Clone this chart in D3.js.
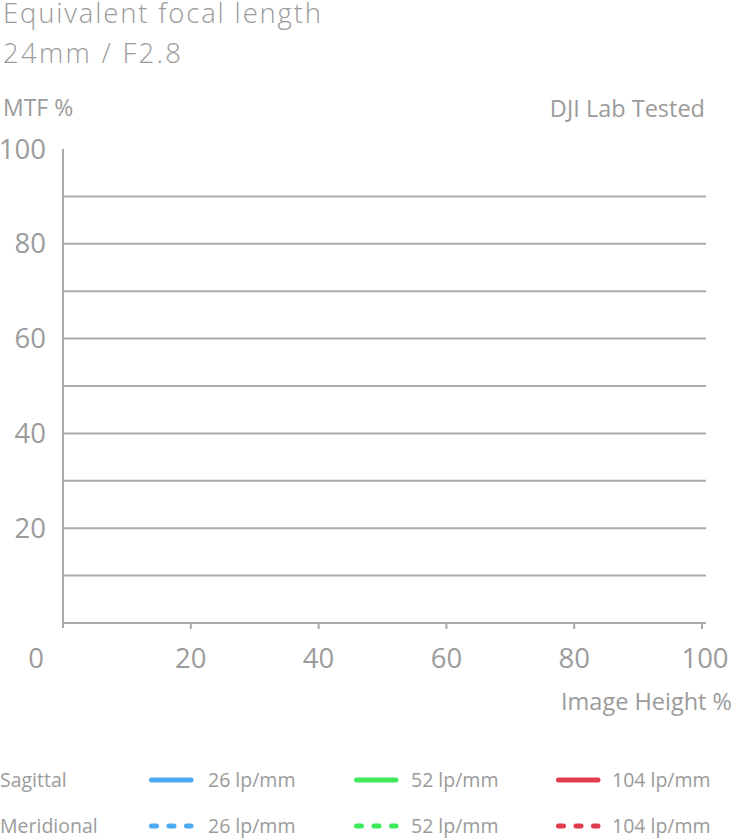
<!DOCTYPE html>
<html><head><meta charset="utf-8">
<script src="https://cdn.jsdelivr.net/npm/d3@7"></script>
<style>
html,body{margin:0;padding:0;background:#fff;}
svg{display:block;}
text{font-family:"Open Sans",sans-serif;fill:#9b9b9b;}
</style></head><body>
<svg id="c" width="732" height="840"></svg>
<script>
const titleLines = ["Equivalent focal length", "24mm / F2.8"];
const yTicks = [20, 40, 60, 80, 100];
const gridValues = [10, 20, 30, 40, 50, 60, 70, 80, 90];
const xTicks = [0, 20, 40, 60, 80, 100];
const frequencies = ["26 lp/mm", "52 lp/mm", "104 lp/mm"];
const freqColors = ["#4aa9f0", "#3fe95a", "#e03c4b"];
const lineTypes = ["Sagittal", "Meridional"];
// The reference shows no measured curves (empty chart)
const sagittal26 = [], sagittal52 = [], sagittal104 = [];
const meridional26 = [], meridional52 = [], meridional104 = [];

const svg = d3.select("#c");
const x = d3.scaleLinear().domain([0, 100]).range([63, 702]);
const y = d3.scaleLinear().domain([0, 100]).range([623, 149]);
const axisColor = "#aaaaaa";

// titles
const titleWidths = [318, 178];
svg.selectAll("text.title").data(titleLines).join("text")
  .attr("class", "title")
  .attr("x", 3).attr("y", (d, i) => 23 + i * 40)
  .attr("textLength", (d, i) => titleWidths[i])
  .attr("lengthAdjust", "spacing")
  .style("font-weight", "300")
  .style("font-size", "27.5px")
  .text(d => d);

svg.append("text").attr("x", 3).attr("y", 116).style("font-size", "23px").text("MTF %");
svg.append("text").attr("x", 705).attr("y", 117).attr("text-anchor", "end").style("font-size", "23.5px").text("DJI Lab Tested");

// grid
svg.append("g").selectAll("line").data(gridValues).join("line")
  .attr("x1", x(0)).attr("x2", 706)
  .attr("y1", d => y(d)).attr("y2", d => y(d))
  .attr("stroke", axisColor).attr("stroke-width", 2);

// y axis
svg.append("line").attr("x1", x(0)).attr("x2", x(0)).attr("y1", y(100)).attr("y2", 628)
  .attr("stroke", axisColor).attr("stroke-width", 2);
svg.append("g").selectAll("text").data(yTicks).join("text")
  .attr("x", 46).attr("y", d => y(d)).attr("dy", "0.35em")
  .attr("text-anchor", "end").style("font-size", "27.5px")
  .text(d => d);

// x axis
svg.append("line").attr("x1", x(0)).attr("x2", 706).attr("y1", y(0)).attr("y2", y(0))
  .attr("stroke", axisColor).attr("stroke-width", 2);
svg.append("g").selectAll("line").data(xTicks.slice(1)).join("line")
  .attr("x1", d => x(d)).attr("x2", d => x(d)).attr("y1", y(0)).attr("y2", y(0) + 6)
  .attr("stroke", axisColor).attr("stroke-width", 2);
svg.append("g").selectAll("text").data(xTicks).join("text")
  .attr("x", d => d === 0 ? 36 : x(d) + (d === 100 ? 3 : 0)).attr("y", 668)
  .attr("text-anchor", "middle").style("font-size", "27.5px")
  .text(d => d);
svg.append("text").attr("x", 732).attr("y", 710).attr("text-anchor", "end").style("font-size", "23.5px").text("Image Height %");

// data curves (none in reference)
const line = d3.line().x(d => x(d[0])).y(d => y(d[1]));
const series = [sagittal26, sagittal52, sagittal104, meridional26, meridional52, meridional104];
svg.append("g").selectAll("path").data(series).join("path")
  .attr("d", d => d.length ? line(d) : null)
  .attr("fill", "none")
  .attr("stroke", (d, i) => freqColors[i % 3])
  .attr("stroke-width", 3)
  .attr("stroke-dasharray", (d, i) => i >= 3 ? "0 8" : null)
  .attr("stroke-linecap", "round");

// legend
const legX = [149, 354, 556];
const legTextX = [208, 411, 612];
const legY = [780, 826];
const leg = svg.append("g");
lineTypes.forEach((t, r) => {
  leg.append("text").attr("x", 0).attr("y", legY[r]).attr("dy", "0.35em").style("font-size", "19.5px").text(t);
  frequencies.forEach((f, c) => {
    leg.append("line")
      .attr("x1", legX[c] + 2.5).attr("x2", legX[c] + 42)
      .attr("y1", legY[r]).attr("y2", legY[r])
      .attr("stroke", freqColors[c]).attr("stroke-width", 5)
      .attr("stroke-linecap", "round")
      .attr("stroke-dasharray", r === 1 ? "5 12.5" : null);
    leg.append("text").attr("x", legTextX[c]).attr("y", legY[r]).attr("dy", "0.35em")
      .style("font-size", "19.5px").text(f);
  });
});
</script></body></html>
